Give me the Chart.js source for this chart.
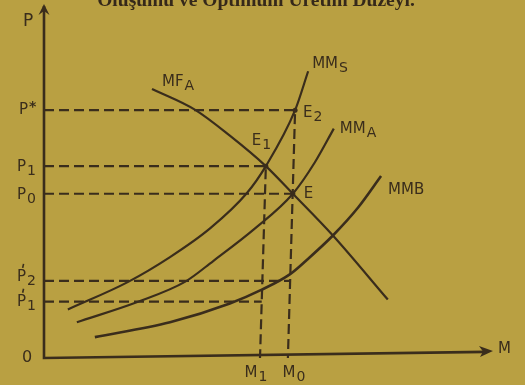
<!DOCTYPE html>
<html lang="tr">
<head>
<meta charset="utf-8">
<title>Optimum Üretim Düzeyi</title>
<script src="https://cdn.jsdelivr.net/npm/chart.js@4.4.1/dist/chart.umd.min.js"></script>
<style>
  html, body { margin: 0; padding: 0; background: #b9a042; }
  #diagram { display: block; }
</style>
</head>
<body>
<canvas id="diagram" width="525" height="385"></canvas>
<script>
// Price (P) and quantity (M) levels marked on the axes
const priceTicks = [70, 54.2, 46.4, 21.8, 15.9];
const priceTickLabels = ['P*', 'P_1', 'P_0', "P'_2", "P'_1"];
const quantityTicks = [48, 54.2];
const quantityTickLabels = ['M_1', 'M_0'];

// Marginal benefit curve MF_A
const mfaX = [24.0, 33.6, 41.3, 49.3, 55.3, 64.2, 76.4];
const mfaY = [76.0, 70.1, 62.8, 54.2, 46.4, 34.6, 16.5];

// Marginal cost curves MM_S, MM_A, MMB
const mmsX = [5.3, 18.7, 28.0, 36.9, 45.1, 49.3, 55.8, 58.7];
const mmsY = [13.7, 21.5, 28.5, 36.6, 46.6, 54.2, 70.0, 81.0];
const mmaX = [7.3, 20.9, 31.3, 37.6, 46.9, 55.3, 60.2, 64.4];
const mmaY = [10.1, 15.9, 21.5, 27.4, 36.6, 46.4, 55.3, 64.8];
const mmbX = [11.3, 28.0, 41.3, 48.4, 54.7, 58.4, 64.2, 69.8, 74.9];
const mmbY = [5.9, 10.1, 15.4, 19.3, 23.7, 27.7, 34.6, 42.5, 51.4];

// Equilibrium points E1, E, E2
const eqNames = ['E_1', 'E', 'E_2'];
const eqX = [49.3, 55.3, 55.8];
const eqY = [54.2, 46.4, 70.0];

const curveNames = ['MF_A', 'MM_S', 'MM_A', 'MMB'];
const ink = '#3a2d1c';

function toPoints(xs, ys) {
    return xs.map((x, i) => ({ x: x, y: ys[i] }));
}

// x on a straight guide between two points, for a given y
function xOnGuide(top, bottom, y) {
    return bottom.x + (top.x - bottom.x) * (y - bottom.y) / (top.y - bottom.y);
}

/* LABEL DRAWING: text with optional prime, star and subscript */
function parseLabel(text) {
    const parts = text.split('_');
    let main = parts[0];
    const prime = main.includes("'");
    const star = main.includes('*');
    main = main.replace("'", '').replace('*', '');
    return { main: main, sub: parts[1] || '', prime: prime, star: star };
}

function drawLabel(ctx, text, x, y, align, size) {
    const lab = parseLabel(text);
    size = size || 15;
    const mainFont = size + 'px "DejaVu Sans"';
    const subFont = (size - 1) + 'px "DejaVu Sans"';
    ctx.font = mainFont;
    const mainW = ctx.measureText(lab.main).width;
    ctx.font = subFont;
    const subW = lab.sub ? ctx.measureText(lab.sub).width + 1 : 0;
    const starW = lab.star ? 8 : 0;
    const total = mainW + subW + starW;

    let left = x;
    if (align === 'right') left = x - total;
    if (align === 'center') left = x - total / 2;

    ctx.fillStyle = ink;
    ctx.textAlign = 'left';
    ctx.textBaseline = 'alphabetic';
    ctx.font = mainFont;
    ctx.fillText(lab.main, left, y);

    if (lab.prime) {
        ctx.strokeStyle = ink;
        ctx.lineWidth = 1.6;
        ctx.beginPath();
        ctx.moveTo(left + mainW * 0.72, y - size - 2);
        ctx.lineTo(left + mainW * 0.62, y - size + 2);
        ctx.stroke();
    }
    if (lab.star) {
        ctx.font = 'bold ' + (size - 1) + 'px "DejaVu Sans"';
        ctx.fillText('*', left + mainW + 1, y - 3);
    }
    if (lab.sub) {
        ctx.font = subFont;
        ctx.fillText(lab.sub, left + mainW + 1, y + 4);
    }
}

/* PLUGINS */
const paperBackground = {
    id: 'paperBackground',
    beforeDraw(chart) {
        const ctx = chart.ctx;
        ctx.save();
        ctx.fillStyle = '#b9a042';
        ctx.fillRect(0, 0, chart.width, chart.height);
        ctx.restore();
    }
};

const axesAndLabels = {
    id: 'axesAndLabels',
    afterDatasetsDraw(chart) {
        const ctx = chart.ctx;
        const area = chart.chartArea;
        const xs = chart.scales.x;
        const ys = chart.scales.y;
        ctx.save();

        // title line, cut by the top edge
        ctx.fillStyle = '#35281a';
        ctx.textAlign = 'center';
        ctx.textBaseline = 'alphabetic';
        const title = 'Oluşumu ve Optimum Üretim Düzeyi.';
        ctx.font = 'bold 20px "Liberation Serif"';
        const tw = ctx.measureText(title).width;
        ctx.font = 'bold ' + (20 * 318 / tw).toFixed(1) + 'px "Liberation Serif"';
        ctx.fillText(title, 256, 6);

        // axes with arrow heads
        ctx.strokeStyle = ink;
        ctx.fillStyle = ink;
        ctx.lineWidth = 2.6;
        ctx.lineCap = 'butt';
        const x0 = area.left, y0 = area.bottom;
        const tipX = area.right - 1, tipY = area.bottom - 7;
        ctx.beginPath();
        ctx.moveTo(x0, area.top + 2);
        ctx.lineTo(x0, y0);
        ctx.lineTo(tipX - 8, tipY + 0.9);
        ctx.stroke();

        ctx.beginPath();
        ctx.moveTo(x0, area.top);
        ctx.lineTo(x0 - 5.5, area.top + 11);
        ctx.lineTo(x0, area.top + 7);
        ctx.lineTo(x0 + 5.5, area.top + 11);
        ctx.closePath();
        ctx.fill();

        ctx.beginPath();
        ctx.moveTo(tipX, tipY);
        ctx.lineTo(tipX - 14, tipY - 5);
        ctx.lineTo(tipX - 10, tipY + 0.5);
        ctx.lineTo(tipX - 13, tipY + 6);
        ctx.closePath();
        ctx.fill();

        // axis names and origin
        drawLabel(ctx, 'P', x0 - 21, area.top + 22, 'left', 17);
        drawLabel(ctx, 'M', area.right + 4, area.bottom - 5, 'left', 15);
        drawLabel(ctx, '0', x0 - 22, area.bottom + 4, 'left', 16);

        // price level labels
        const priceNudge = [-1, 0, 0, -5, -1];
        priceTicks.forEach((v, i) => {
            drawLabel(ctx, priceTickLabels[i], x0 - 8, ys.getPixelForValue(v) + 5 + priceNudge[i], 'right');
        });

        // quantity level labels
        const qtyNudge = [-4, 6];
        quantityTicks.forEach((v, i) => {
            drawLabel(ctx, quantityTickLabels[i], xs.getPixelForValue(v) + qtyNudge[i], area.bottom + 19, 'center');
        });

        // curve names next to their ends
        const ends = [
            { x: mfaX[0], y: mfaY[0], dx: 10, dy: -3 },
            { x: mmsX[mmsX.length - 1], y: mmsY[mmsY.length - 1], dx: 4, dy: -3 },
            { x: mmaX[mmaX.length - 1], y: mmaY[mmaY.length - 1], dx: 6, dy: 4 },
            { x: mmbX[mmbX.length - 1], y: mmbY[mmbY.length - 1], dx: 7, dy: 18 }
        ];
        ends.forEach((p, i) => {
            drawLabel(ctx, curveNames[i], xs.getPixelForValue(p.x) + p.dx, ys.getPixelForValue(p.y) + p.dy, 'left');
        });

        // equilibrium point names
        const eqOffset = [{ dx: -14, dy: -21 }, { dx: 11, dy: 4 }, { dx: 8, dy: 7 }];
        eqNames.forEach((name, i) => {
            drawLabel(ctx, name, xs.getPixelForValue(eqX[i]) + eqOffset[i].dx, ys.getPixelForValue(eqY[i]) + eqOffset[i].dy, 'left');
        });

        ctx.restore();
    }
};

/* DIAGRAM */
function initializeDiagram() {
    const e1 = { x: eqX[0], y: eqY[0] };
    const e = { x: eqX[1], y: eqY[1] };
    const e2 = { x: eqX[2], y: eqY[2] };
    const m1Foot = { x: quantityTicks[0], y: 0 };
    const m0Foot = { x: quantityTicks[1], y: 0 };

    // dashed guide lines from the axes to the intersections
    const guides = [
        [{ x: 0, y: priceTicks[0] }, e2, m0Foot],
        [{ x: 0, y: priceTicks[1] }, e1, m1Foot],
        [{ x: 0, y: priceTicks[2] }, e],
        [{ x: 0, y: priceTicks[3] }, { x: xOnGuide(e2, m0Foot, priceTicks[3]), y: priceTicks[3] }],
        [{ x: 0, y: priceTicks[4] }, { x: xOnGuide(e1, m1Foot, priceTicks[4]), y: priceTicks[4] }]
    ];

    const guideSets = guides.map(points => ({
        data: points,
        showLine: true,
        borderColor: ink,
        borderWidth: 2.2,
        borderDash: [10, 5],
        pointRadius: 0,
        tension: 0
    }));

    const curveSets = [
        toPoints(mfaX, mfaY),
        toPoints(mmsX, mmsY),
        toPoints(mmaX, mmaY),
        toPoints(mmbX, mmbY)
    ].map((points, i) => ({
        label: curveNames[i],
        data: points,
        showLine: true,
        borderColor: ink,
        borderWidth: i === 3 ? 2.6 : 2.2,
        pointRadius: 0,
        cubicInterpolationMode: 'monotone'
    }));

    // small dots at the intersections
    const dotSet = {
        data: toPoints(eqX, eqY),
        showLine: false,
        pointRadius: 2.5,
        pointBackgroundColor: ink,
        pointBorderWidth: 0
    };

    const config = {
        type: 'scatter',
        data: { datasets: guideSets.concat(curveSets, [dotSet]) },
        options: {
            responsive: false,
            animation: false,
            layout: {
                padding: { left: 44, right: 31, top: 0, bottom: 27 }
            },
            plugins: {
                legend: { display: false },
                tooltip: { enabled: false }
            },
            scales: {
                x: { type: 'linear', min: 0, max: 100, display: false },
                y: { type: 'linear', min: 0, max: 100, display: false }
            }
        },
        plugins: [paperBackground, axesAndLabels]
    };

    const ctx = document.getElementById('diagram').getContext('2d');
    new Chart(ctx, config);
}

document.addEventListener('DOMContentLoaded', initializeDiagram);
</script>
</body>
</html>
